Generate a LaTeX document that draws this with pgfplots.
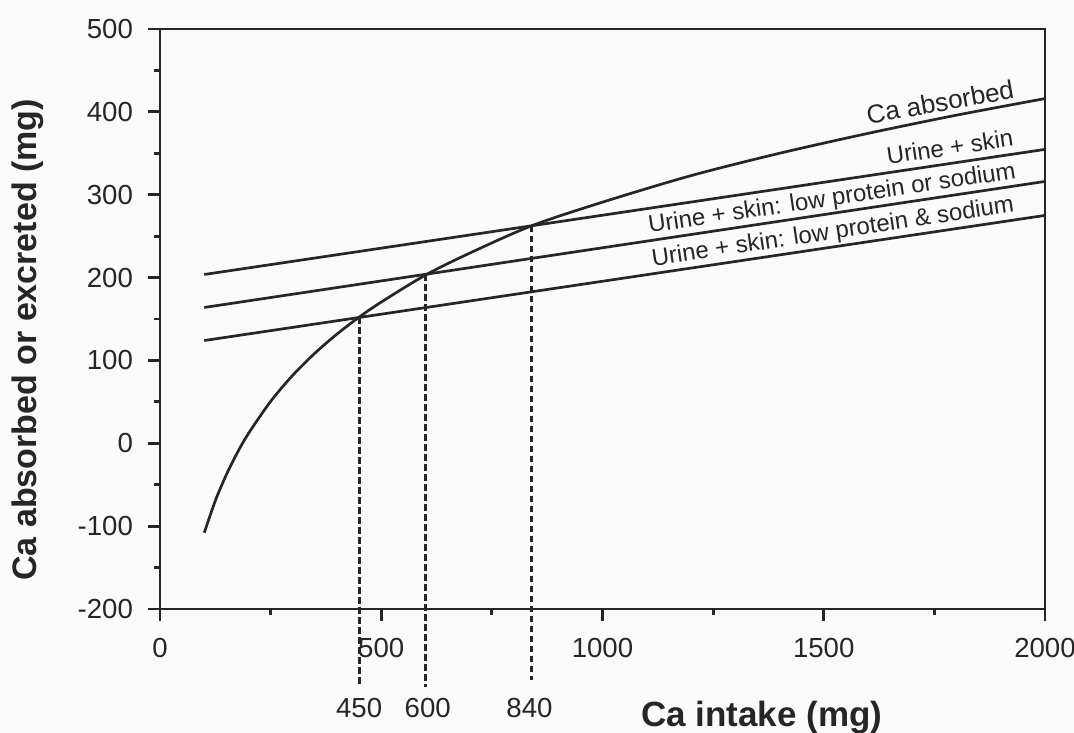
\documentclass[border=0pt]{standalone}
\usepackage{pgfplots}
\pgfplotsset{compat=1.18}
\usetikzlibrary{backgrounds}
\usepackage{fontspec}
\setmainfont{Liberation Sans}
\definecolor{ink}{HTML}{262626}
\definecolor{paper}{HTML}{FAFAFA}
\begin{document}
\begin{tikzpicture}[show background rectangle, inner frame sep=0pt,
  background rectangle/.style={fill=paper, draw=none}]
\begin{axis}[
  scale only axis,
  width=442.5pt, height=290pt,
  xmin=0, xmax=2000, ymin=-200, ymax=500,
  axis line style={ink, line width=1.4pt},
  xtick={0,500,1000,1500,2000},
  ytick={-200,-100,0,100,200,300,400,500},
  minor xtick={250,750,1250,1750},
  minor ytick={-150,-50,50,150,250,350,450},
  xtick pos=left, ytick pos=left,
  tick align=outside,
  major tick length=6pt, minor tick length=3pt,
  every tick/.style={ink, line width=1.4pt},
  /pgf/number format/assume math mode=true,
  /pgf/number format/1000 sep={},
  tick label style={font=\fontsize{13.8}{15}\selectfont, text=ink},
  yticklabel style={xshift=-4pt},
  xticklabel style={yshift=-5pt},
  clip=false,
]
\pgfplotsset{ln/.style={ink, no markers, line width=1.35pt},
  dl/.style={ink, no markers, line width=1.5pt, dash pattern=on 3.3pt off 1.7pt}}
\addplot[ln, smooth] coordinates {
(100,-108) (125,-69.4) (150,-37.9) (175,-11.2) (200,11.9) (250,50.5)
(300,82.1) (350,108.7) (400,131.8) (450,152.2) (500,170.4) (600,203)
(700,229.5) (840,262.5) (1000,291) (1200,323) (1400,350) (1600,374)
(1800,396) (2000,416)};
\addplot[ln] coordinates {(100,203.7) (2000,354.7)};
\addplot[ln] coordinates {(100,163.9) (2000,316)};
\addplot[ln] coordinates {(100,124) (2000,275)};
\addplot[dl] coordinates {(450,152) (450,-294)};
\addplot[dl] coordinates {(600,204) (600,-294)};
\addplot[dl] coordinates {(840,262.5) (840,-286)};
\node[font=\fontsize{13.8}{15}\selectfont, text=ink] at (axis cs:450,-320) {450};
\node[font=\fontsize{13.8}{15}\selectfont, text=ink] at (axis cs:605,-320) {600};
\node[font=\fontsize{13.8}{15}\selectfont, text=ink] at (axis cs:835,-320) {840};
\node[inner sep=0pt, font=\fontsize{13}{15}\selectfont, text=ink, rotate=10] at (axis cs:1763,411.8) {Ca absorbed};
\node[inner sep=0pt, font=\fontsize{12}{14}\selectfont, text=ink, rotate=8.5] at (axis cs:1785,358) {Urine + skin};
\node[inner sep=0pt, font=\fontsize{12}{14}\selectfont, text=ink, rotate=8.5] at (axis cs:1519,294.3) {Urine + skin: low protein or sodium};
\node[inner sep=0pt, font=\fontsize{12}{14}\selectfont, text=ink, rotate=8.5] at (axis cs:1521,253.9) {Urine + skin: low protein \& sodium};
\node[font=\bfseries\fontsize{17.5}{20}\selectfont, text=ink] at (rel axis cs:0.68,-0.188) {Ca intake (mg)};
\node[font=\bfseries\fontsize{17}{20}\selectfont, text=ink, rotate=90] at (rel axis cs:-0.149,0.464) {Ca absorbed or excreted (mg)};
\coordinate (BL) at (rel axis cs:-0.1808,-0.2138);
\coordinate (TR) at (rel axis cs:1.0328,1.05);
\end{axis}
\pgfresetboundingbox
\path[use as bounding box] (BL) rectangle (TR);
\end{tikzpicture}
\end{document}
